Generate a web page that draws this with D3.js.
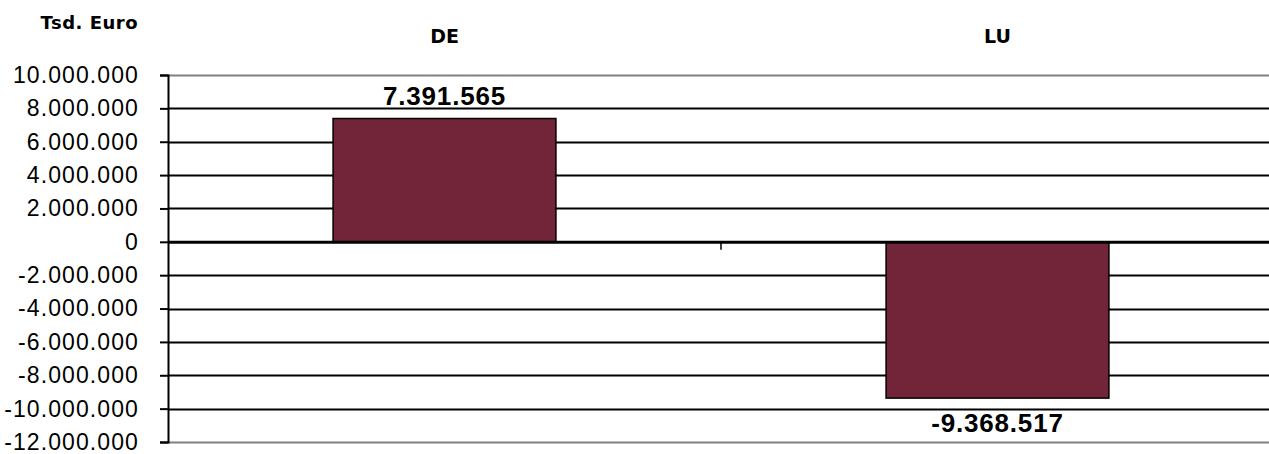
<!DOCTYPE html>
<html>
<head>
<meta charset="utf-8">
<script src="https://cdn.jsdelivr.net/npm/d3@7"></script>
<style>
  body { margin: 0; background: #fff; }
  svg { display: block; font-family: "Liberation Sans", Arial, sans-serif; }
</style>
</head>
<body>
<div id="main"></div>
<script>
// data
const categories = ["DE", "LU"];
const values = [7391565, -9368517];
const yTicks = [10000000, 8000000, 6000000, 4000000, 2000000, 0, -2000000, -4000000, -6000000, -8000000, -10000000, -12000000];
const unitLabel = "Tsd. Euro";

const W = 1269, H = 454;
const m = { left: 168, right: 1274, top: 75, bottom: 442 };

const svg = d3.select("#main").append("svg")
  .attr("width", W)
  .attr("height", H);

const x = d3.scaleBand()
  .domain(categories)
  .range([m.left, m.right])
  .paddingInner(0.597)
  .paddingOuter(0.2985);

const y = d3.scaleLinear()
  .domain([-12000000, 10000000])
  .range([m.bottom, m.top]);

// german number format: dot as thousands separator, plain hyphen
const de = d3.formatLocale({ decimal: ",", thousands: ".", grouping: [3], currency: ["", " €"], minus: "-" });
const fmt = de.format(",.0f");

// gridlines
svg.append("g")
  .selectAll("line")
  .data(yTicks.filter(d => d !== 0))
  .join("line")
    .attr("x1", m.left)
    .attr("x2", W)
    .attr("y1", d => Math.round(y(d)) + 0.5)
    .attr("y2", d => Math.round(y(d)) + 0.5)
    .attr("stroke", d => (d === 10000000 || d === -12000000) ? "#808080" : "#000")
    .attr("stroke-width", 2);

// bars
svg.append("g")
  .selectAll("rect")
  .data(categories)
  .join("rect")
    .attr("x", d => x(d))
    .attr("width", x.bandwidth())
    .attr("y", (d, i) => y(Math.max(0, values[i])))
    .attr("height", (d, i) => Math.abs(y(values[i]) - y(0)))
    .attr("fill", "#722539")
    .attr("stroke", "#000")
    .attr("stroke-width", 1.5);

// y axis
const yAxis = svg.append("g")
  .attr("transform", `translate(${m.left},0)`)
  .call(d3.axisLeft(y).tickValues(yTicks).tickFormat(fmt).tickSize(8).tickPadding(21));
yAxis.select(".domain").attr("stroke", "#000").attr("stroke-width", 2);
yAxis.selectAll(".tick line").attr("stroke", "#000").attr("stroke-width", 2);
yAxis.selectAll("text")
  .attr("fill", "#000")
  .style("font-size", "23px")
  .style("letter-spacing", "1.1px")
  .style("font-family", "'Liberation Sans', Arial, sans-serif");

// zero line with category separator hanging below
const xAxis = svg.append("g")
  .attr("transform", `translate(0,${y(0)})`)
  .call(d3.axisBottom(x).tickValues([]).tickSizeOuter(0));
xAxis.select(".domain").attr("stroke", "#000").attr("stroke-width", 3);
const sep = x("DE") + x.bandwidth() + x.step() * x.paddingInner() / 2;
xAxis.append("line")
  .attr("x1", sep)
  .attr("x2", sep)
  .attr("y1", 0)
  .attr("y2", 8)
  .attr("stroke", "#000")
  .attr("stroke-width", 1.5);

// category labels on top
const topAxis = svg.append("g")
  .attr("transform", `translate(0,43)`)
  .call(d3.axisTop(x).tickSize(0).tickPadding(0));
topAxis.select(".domain").remove();
topAxis.selectAll("text")
  .attr("fill", "#000")
  .style("font-size", "19px")
  .style("font-weight", "bold")
  .style("font-family", "'DejaVu Sans', sans-serif");

// value labels
svg.append("g")
  .selectAll("text")
  .data(categories)
  .join("text")
    .attr("x", d => x(d) + x.bandwidth() / 2)
    .attr("y", (d, i) => values[i] >= 0 ? y(values[i]) - 14 : y(values[i]) + 34)
    .attr("text-anchor", "middle")
    .style("font-size", "26px")
    .style("font-weight", "bold")
    .style("letter-spacing", "0.8px")
    .text((d, i) => fmt(values[i]));

// unit label
svg.append("text")
  .attr("x", 138)
  .attr("y", 29)
  .attr("text-anchor", "end")
  .style("font-size", "18px")
  .style("font-weight", "bold")
  .style("letter-spacing", "0.5px")
  .style("font-family", "'DejaVu Sans', sans-serif")
  .text(unitLabel);
</script>
</body>
</html>
